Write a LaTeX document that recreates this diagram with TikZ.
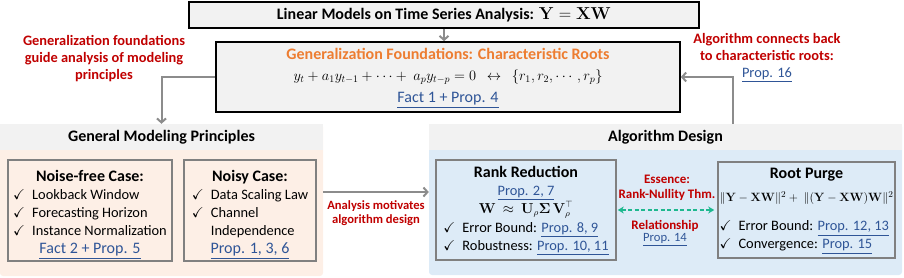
\documentclass[tikz,border=0pt]{standalone}
\usepackage{amsmath,amssymb}
\usepackage[no-math]{fontspec}
\setmainfont{Carlito}
\usetikzlibrary{positioning,arrows.meta,calc}
\definecolor{headgray}{HTML}{F2F2F2}
\definecolor{peach}{HTML}{FDEFE6}
\definecolor{paleblue}{HTML}{DDEBF7}
\definecolor{boxgray}{HTML}{808080}
\definecolor{arrowgray}{HTML}{8C8C8C}
\definecolor{deepred}{HTML}{C00000}
\definecolor{rootorange}{HTML}{ED7D31}
\definecolor{linkblue}{HTML}{2F5597}
\definecolor{mintgreen}{HTML}{1DB88F}
\newcommand{\proplink}[1]{\textcolor{linkblue}{\underline{#1}}}
\newcommand{\chk}{\makebox[19pt][l]{$\checkmark$}}
\newcommand{\boxtitle}[1]{\multicolumn{1}{@{}c@{}}{\fontsize{16}{18}\selectfont\bfseries #1}}
\newcommand{\midrow}[1]{\multicolumn{1}{@{}c@{}}{#1}}

\begin{document}
\begin{tikzpicture}[x=1pt,y=-1pt]
  \tikzset{
    mainbox/.style={draw=black, line width=1.6pt, fill=headgray, inner sep=0pt},
    panel/.style={rounded corners=3pt, inner sep=0pt},
    headbar/.style={fill=headgray, inner sep=0pt, font=\fontsize{16}{19}\selectfont\bfseries},
    casebox/.style={draw=boxgray, line width=1.6pt, inner sep=0pt, font=\fontsize{14.4}{18}\selectfont},
    flow/.style={draw=arrowgray, line width=2pt, -{Straight Barb[length=4pt,width=9pt]}},
    note/.style={text=deepred, align=center, font=\fontsize{14.4}{17}\selectfont\bfseries},
    smallnote/.style={text=deepred, align=center, font=\fontsize{12.6}{14.5}\selectfont\bfseries}
  }
  \useasboundingbox (0,0) rectangle (904,278);

  % top of the hierarchy
  \node[mainbox, minimum width=510, minimum height=26, font=\fontsize{16}{19}\selectfont\bfseries] (top) at (444,15)
    {Linear Models on Time Series Analysis: $\mathbf{Y} = \mathbf{XW}$};

  % generalization foundations
  \node[mainbox, minimum width=464, minimum height=70, font=\fontsize{16}{20}\selectfont] (gen) at (448,77) {%
    \begin{tabular}{@{}c@{}}
      {\color{rootorange}\bfseries Generalization Foundations: Characteristic Roots}\\[1pt]
      {\fontsize{14.8}{18}\selectfont$y_t + a_1 y_{t-1} + \cdots +\ a_p y_{t-p} = 0 \ \ \leftrightarrow\ \ \{r_1, r_2, \cdots, r_p\}$}\\[2pt]
      \proplink{Fact 1 + Prop. 4}
    \end{tabular}};

  % left panel: modeling principles
  \node[panel, fill=peach, minimum width=323, minimum height=152] (principles) at (161.5,200) {};
  \node[headbar, minimum width=323, minimum height=26] (principleshead) at (161.5,137) {General Modeling Principles};

  \node[casebox, minimum width=164, minimum height=101] (noisefree) at (90,210.5) {%
    \begin{tabular}{@{}l@{}}
      \boxtitle{\rule{0pt}{20pt}Noise-free Case:}\\
      \chk Lookback Window\\
      \chk Forecasting Horizon\\
      \chk Instance Normalization\\
      \midrow{\fontsize{16}{18}\selectfont\proplink{Fact 2 + Prop. 5}}
    \end{tabular}};

  \node[casebox, minimum width=132, minimum height=101] (noisy) at (250,210.5) {%
    \begin{tabular}{@{}l@{}}
      \boxtitle{\rule{0pt}{20pt}Noisy Case:}\\
      \chk Data Scaling Law\\
      \chk Channel\\
      \hspace{19pt}Independence\\
      \midrow{\fontsize{16}{18}\selectfont\proplink{Prop. 1, 3, 6}}
    \end{tabular}};

  % right panel: algorithm design
  \node[panel, fill=paleblue, minimum width=473, minimum height=151] (algo) at (665.5,199.5) {};
  \node[headbar, minimum width=473, minimum height=26] (algohead) at (665.5,137) {Algorithm Design};

  \node[casebox, minimum width=180, minimum height=100] (rank) at (526,210) {%
    \begin{tabular}{@{}l@{}}
      \boxtitle{Rank Reduction}\\
      \midrow{\proplink{Prop. 2, 7}}\\[0pt]
      \midrow{\fontsize{13.5}{16}\selectfont$\mathbf{W} \ \approx\ \mathbf{U}_{\rho}\boldsymbol{\Sigma}\,\mathbf{V}_{\rho}^{\top}$}\\[1pt]
      \chk Error Bound: \proplink{Prop. 8, 9}\\
      \chk Robustness: \proplink{Prop. 10, 11}
    \end{tabular}};

  \node[casebox, minimum width=177, minimum height=96] (root) at (806.5,210) {%
    \begin{tabular}{@{}l@{}}
      \boxtitle{Root Purge}\\[5pt]
      \midrow{\fontsize{12.8}{16}\selectfont$\|\mathbf{Y}-\mathbf{XW}\|^2 +\ \|(\mathbf{Y}-\mathbf{XW})\mathbf{W}\|^2$}\\[11pt]
      \chk Error Bound: \proplink{Prop. 12, 13}\\
      \chk Convergence: \proplink{Prop. 15}
    \end{tabular}};

  % annotations
  \node[note] (guidenote) at (104,59) {Generalization foundations\\guide analysis of modeling\\principles};
  \node[note] (backnote) at (767,58) {Algorithm connects back\\to characteristic roots:\\{\mdseries\proplink{Prop. 16}}};
  \node[smallnote] (motivnote) at (376,213) {Analysis motivates\\algorithm design};
  \node[note, font=\fontsize{13}{15}\selectfont\bfseries] (essence) at (667,188) {Essence:\\Rank-Nullity Thm.};
  \node[note, font=\fontsize{13}{11.5}\selectfont\bfseries] (relation) at (665,233)
    {Relationship\\{\mdseries\fontsize{12.6}{11.5}\selectfont\proplink{Prop. 14}}};

  % connectors
  \coordinate (backstart) at (733,124);
  \draw[flow] (top.south) -- (top.south |- gen.north);
  \draw[flow] (gen.west) -| (principleshead.north);
  \draw[flow] (backstart) |- (gen.east);
  \draw[flow] ($(principles.east)+(0,-8)$) -- ($(algo.west)+(0,-7.5)$);
  \draw[mintgreen, line width=1.6pt, dash pattern=on 4pt off 2.5pt,
        {Stealth[length=6pt,width=7pt]}-{Stealth[length=6pt,width=7pt]}, shorten <=1pt, shorten >=3pt]
    (rank.east) -- (root.west);

\end{tikzpicture}
\end{document}
